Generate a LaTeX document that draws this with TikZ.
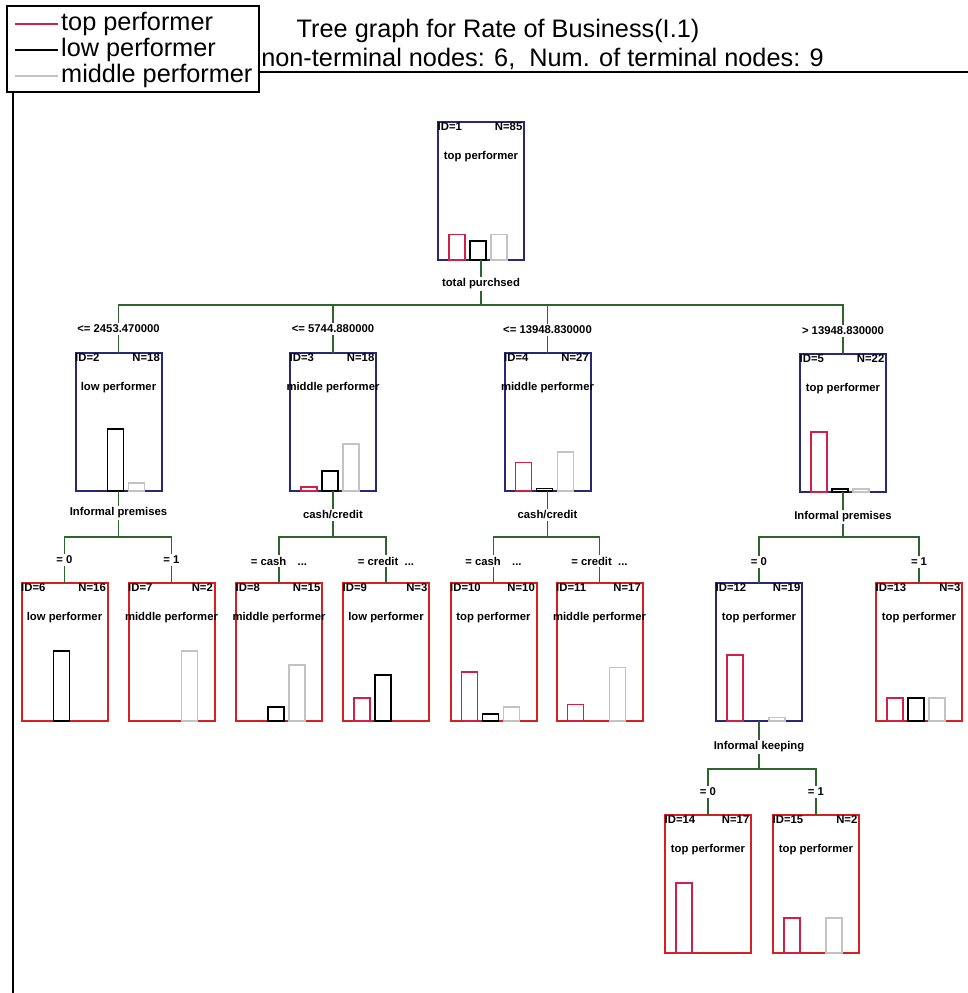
\documentclass[tikz,border=0pt]{standalone}
\usepackage{fontspec}
\setmainfont{Liberation Sans}
\definecolor{navy}{RGB}{40,40,120}
\definecolor{boxred}{RGB}{212,32,32}
\definecolor{barred}{RGB}{208,32,72}
\definecolor{bargray}{RGB}{195,195,195}
\definecolor{conngreen}{RGB}{46,100,46}
\tikzset{
  box/.style={draw, line width=2pt, minimum width=86pt, minimum height=138pt, inner sep=0pt, outer sep=0pt, anchor=north},
  inner/.style={box, draw=navy},
  leaf/.style={box, draw=boxred},
  small/.style={font=\fontsize{11.3}{12}\selectfont\bfseries, inner sep=1.5pt, text=black},
  conn/.style={draw=conngreen, line width=1.3pt},
  barR/.style={draw=barred, line width=1.6pt},
  barB/.style={draw=black, line width=1.6pt},
  barG/.style={draw=bargray, line width=1.6pt},
  big/.style={font=\fontsize{25.3}{27}\selectfont, inner sep=0pt},
}
\newcommand\tnode[9]{%
  \node[#3] (n#4) at (#1,#2) {};
  \node[small, anchor=north west] (id#4) at ([xshift=-2pt,yshift=1pt]n#4.north west) {ID=#4};
  \node[small, anchor=north east] (nn#4) at ([yshift=1pt]n#4.north east) {N=#5};
  \node[small] (c#4) at ([yshift=-35pt]n#4.north) {#6};
  \ifdim#7pt>0pt \draw[barR] ([xshift=11pt]n#4.south west) rectangle ++(16pt,#7pt);\fi
  \ifdim#8pt>0pt \draw[barB] ([xshift=32pt]n#4.south west) rectangle ++(16pt,#8pt);\fi
  \ifdim#9pt>0pt \draw[barG] ([xshift=53pt]n#4.south west) rectangle ++(16pt,#9pt);\fi
}
\begin{document}
\begin{tikzpicture}[x=1pt,y=-1pt]
\useasboundingbox (0,0) rectangle (968,993);
% header
\node[big] (title) at (498,31) {Tree graph for Rate of Business(I.1)};
\node[big, anchor=east] (sub) at (824,59) {non-terminal nodes: 6,\ \ Num. of terminal nodes: 9};
\coordinate (hl) at (259,72);
\coordinate (hr) at (968,72);
\draw[line width=1.5pt] (hl) -- (hr);
\coordinate (vt) at (13,92);
\coordinate (vb) at (13,993);
\draw[line width=1.5pt] (vt) -- (vb);
% legend
\draw[line width=1.5pt, fill=white] (7,6) rectangle (259,92);
\draw[barred, line width=2pt] (15,24) -- (58,24);
\draw[black, line width=2pt] (15,50) -- (58,50);
\draw[bargray, line width=2pt] (15,76) -- (58,76);
\node[big, anchor=west] (l1) at (61,24) {top performer};
\node[big, anchor=west] (l2) at (61,50) {low performer};
\node[big, anchor=west] (l3) at (61,76) {middle performer};
% nodes
\tnode{481}{122}{inner}{1}{85}{top performer}{25.5}{19}{25.5}
\tnode{118.5}{353}{inner}{2}{18}{low performer}{0}{62}{8}
\tnode{333}{353}{inner}{3}{18}{middle performer}{4}{20}{47}
\tnode{547.5}{353}{inner}{4}{27}{middle performer}{28.5}{2.6}{39}
\tnode{843}{354}{inner}{5}{22}{top performer}{60}{3}{3}
\tnode{64.5}{583}{leaf}{6}{16}{low performer}{0}{70}{0}
\tnode{171.5}{583}{leaf}{7}{2}{middle performer}{0}{0}{70}
\tnode{279}{583}{leaf}{8}{15}{middle performer}{0}{14}{56}
\tnode{386}{583}{leaf}{9}{3}{low performer}{23}{46}{0}
\tnode{493.5}{583}{leaf}{10}{10}{top performer}{49}{7}{14}
\tnode{599.5}{583}{leaf}{11}{17}{middle performer}{16.5}{0}{53.5}
\tnode{759}{583}{inner}{12}{19}{top performer}{66}{0}{3.7}
\tnode{919}{583}{leaf}{13}{3}{top performer}{23}{23}{23}
\tnode{708}{815}{leaf}{14}{17}{top performer}{70}{0}{0}
\tnode{816}{815}{leaf}{15}{2}{top performer}{35}{0}{35}
% split labels
\node[small] (s1) at (481,284) {total purchsed};
\node[small] (s2) at (118.5,513) {Informal premises};
\node[small] (s3) at (333,515) {cash/credit};
\node[small] (s4) at (547.5,515) {cash/credit};
\node[small] (s5) at (843,517) {Informal premises};
\node[small] (s12) at (759,747) {Informal keeping};
% edge labels
\node[small] (e2) at (118.5,329) {<= 2453.470000};
\node[small] (e3) at (333,329) {<= 5744.880000};
\node[small] (e4) at (547.5,330) {<= 13948.830000};
\node[small] (e5) at (843,331) {> 13948.830000};
\node[small] (e6) at (64.5,560) {= 0};
\node[small] (e7) at (171.5,560) {= 1};
\node[small] (e8) at (279,561) {= cash\quad ...};
\node[small] (e9) at (386,561) {= credit\ \ ...};
\node[small] (e10) at (493.5,561) {= cash\quad ...};
\node[small] (e11) at (599.5,561) {= credit\ \ ...};
\node[small] (e12) at (759,562) {= 0};
\node[small] (e13) at (919,562) {= 1};
\node[small] (e14) at (708,792) {= 0};
\node[small] (e15) at (816,792) {= 1};
% junctions
\coordinate (h1) at (481,305);
\coordinate (h2) at (118.5,537);
\coordinate (h3) at (333,537);
\coordinate (h4) at (547.5,537);
\coordinate (h5) at (843,537);
\coordinate (h12) at (759,769);
% connectors
\draw[conn] (n1.south) -- (s1.north);
\draw[conn] (s1.south) -- (h1);
\foreach \c in {2,3,4,5}{
  \draw[conn] (e\c.north) |- (h1);
  \draw[conn] (e\c.south) -- (n\c.north);
  \draw[conn] (n\c.south) -- (s\c.north);
  \draw[conn] (s\c.south) -- (h\c);
}
\foreach \p/\a/\b in {2/6/7,3/8/9,4/10/11,5/12/13,12/14/15}{
  \draw[conn] (e\a.north) |- (h\p);
  \draw[conn] (e\b.north) |- (h\p);
  \draw[conn] (e\a.south) -- (n\a.north);
  \draw[conn] (e\b.south) -- (n\b.north);
}
\draw[conn] (n12.south) -- (s12.north);
\draw[conn] (s12.south) -- (h12);
\end{tikzpicture}
\end{document}
